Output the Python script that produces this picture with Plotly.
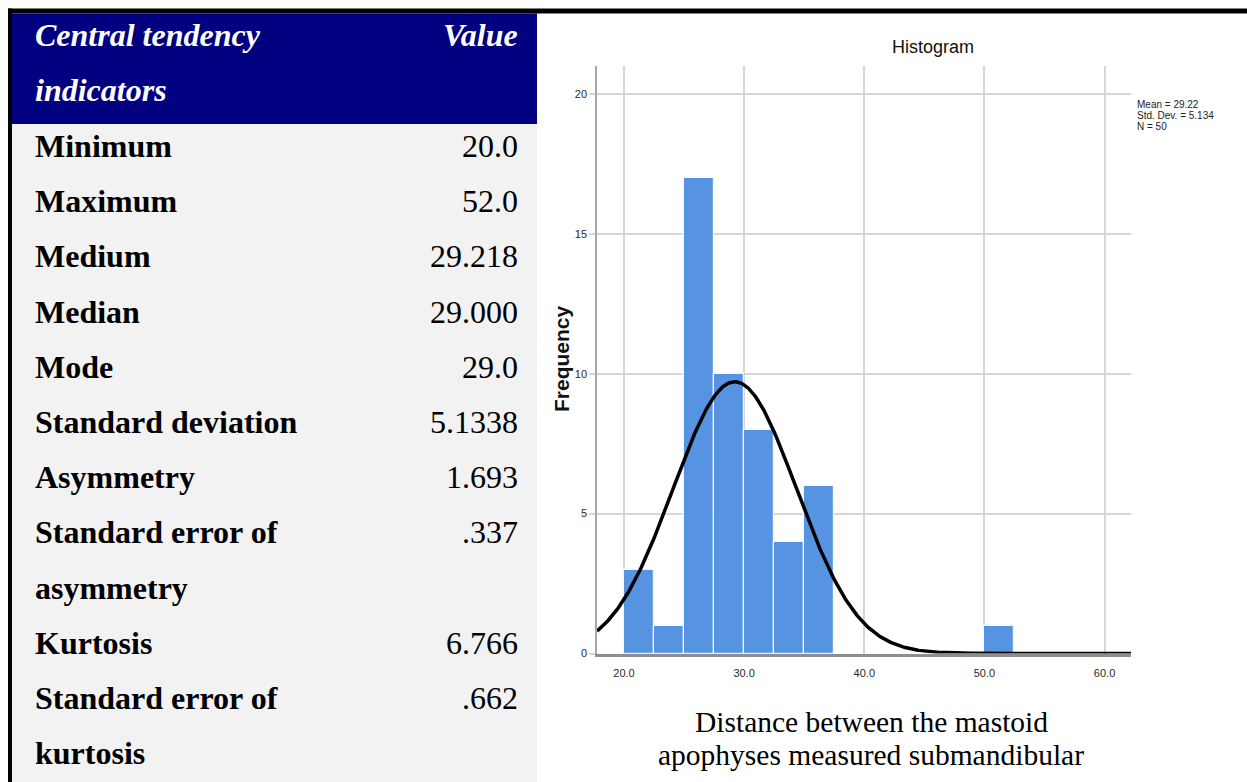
import numpy as np
import plotly.graph_objects as go

# ---------------- data ----------------
bin_starts = [20.0, 22.5, 25.0, 27.5, 30.0, 32.5, 35.0, 50.0]
frequencies = [3, 1, 17, 10, 8, 4, 6, 1]
bin_width = 2.5
mean_value = 29.22
std_dev = 5.134
n_obs = 50

x_tick_values = [20, 30, 40, 50, 60]
x_tick_labels = ["20.0", "30.0", "40.0", "50.0", "60.0"]
y_tick_values = [0, 5, 10, 15, 20]
y_tick_labels = ["0", "5", "10", "15", "20"]

header_label_lines = ["Central tendency", "indicators"]
header_value = "Value"
indicator_lines = [
    ["Minimum"],
    ["Maximum"],
    ["Medium"],
    ["Median"],
    ["Mode"],
    ["Standard deviation"],
    ["Asymmetry"],
    ["Standard error of", "asymmetry"],
    ["Kurtosis"],
    ["Standard error of", "kurtosis"],
]
indicator_values = ["20.0", "52.0", "29.218", "29.000", "29.0", "5.1338",
                    "1.693", ".337", "6.766", ".662"]

chart_title = "Histogram"
y_title = "Frequency"
caption_lines = ["Distance between the mastoid", "apophyses measured submandibular"]

# ---------------- layout helpers ----------------
W, H = 1247, 782


def px(x):
    return x / W


def py(y):
    return 1 - y / H


SERIF = "Liberation Serif, Times New Roman, serif"
NARROW = "Liberation Sans Narrow, Arial Narrow, Liberation Sans, Arial, sans-serif"
SANS = "Liberation Sans, Arial, sans-serif"

fig = go.Figure()

# histogram bars
fig.add_trace(go.Bar(
    x=bin_starts, y=frequencies, width=bin_width, offset=0,
    marker=dict(color="#5694E2", line=dict(color="#F4F8FD", width=1.2)),
    hoverinfo="skip", showlegend=False,
))

# fitted normal curve (from the mean, std. dev. and N shown in the chart)
xs = np.linspace(17.75, 62.2, 500)
scale = n_obs * bin_width / (std_dev * np.sqrt(2 * np.pi))
ys = scale * np.exp(-0.5 * ((xs - mean_value) / std_dev) ** 2)
fig.add_trace(go.Scatter(
    x=xs, y=ys, mode="lines", line=dict(color="#000000", width=3.5),
    hoverinfo="skip", showlegend=False,
))

shapes = [
    # top and left black frame
    dict(type="rect", xref="paper", yref="paper", x0=px(8), x1=px(1247), y0=py(13.5), y1=py(8.5),
         fillcolor="#000000", line=dict(width=0), layer="below"),
    dict(type="rect", xref="paper", yref="paper", x0=px(8), x1=px(12), y0=py(782), y1=py(8.5),
         fillcolor="#000000", line=dict(width=0), layer="below"),
    # header
    dict(type="rect", xref="paper", yref="paper", x0=px(12), x1=px(537), y0=py(124), y1=py(13.5),
         fillcolor="#000080", line=dict(width=0), layer="below"),
    # body
    dict(type="rect", xref="paper", yref="paper", x0=px(12), x1=px(537), y0=py(782), y1=py(124),
         fillcolor="#F2F2F2", line=dict(width=0), layer="below"),
]

annotations = []
LEFT_X, RIGHT_X = 33, 520
FS = 32
header_ys = [35, 90]
for i, t in enumerate(header_label_lines):
    annotations.append(dict(
        x=px(LEFT_X), y=py(header_ys[i]), xref="paper", yref="paper", xanchor="left", yanchor="middle",
        text=f"<b><i>{t}</i></b>", showarrow=False, font=dict(family=SERIF, size=FS, color="#FFFFFF")))
annotations.append(dict(
    x=px(RIGHT_X), y=py(header_ys[0]), xref="paper", yref="paper", xanchor="right", yanchor="middle",
    text=f"<b><i>{header_value}</i></b>", showarrow=False, font=dict(family=SERIF, size=FS, color="#FFFFFF")))

line_idx = 0
ROW0, STEP = 146, 55.2
for lines, val in zip(indicator_lines, indicator_values):
    for j, t in enumerate(lines):
        annotations.append(dict(
            x=px(LEFT_X), y=py(ROW0 + STEP * (line_idx + j)), xref="paper", yref="paper",
            xanchor="left", yanchor="middle", text=f"<b>{t}</b>", showarrow=False,
            font=dict(family=SERIF, size=FS, color="#000000")))
    annotations.append(dict(
        x=px(RIGHT_X), y=py(ROW0 + STEP * line_idx), xref="paper", yref="paper",
        xanchor="right", yanchor="middle", text=val, showarrow=False,
        font=dict(family=SERIF, size=FS, color="#000000")))
    line_idx += len(lines)

# chart title
annotations.append(dict(x=px(933), y=py(47), xref="paper", yref="paper", xanchor="center", yanchor="middle",
                        text=chart_title, showarrow=False, font=dict(family=NARROW, size=18, color="#111111")))
# y axis title
annotations.append(dict(x=px(562), y=py(359), xref="paper", yref="paper", xanchor="center", yanchor="middle",
                        text=f"<b>{y_title}</b>", textangle=-90, showarrow=False,
                        font=dict(family=SANS, size=21, color="#111111")))
# stats box
stats = [f"Mean = {mean_value:.2f}", f"Std. Dev. = {std_dev:.3f}", f"N = {n_obs}"]
for k, s in enumerate(stats):
    annotations.append(dict(x=px(1135), y=py(104 + 11.5 * k), xref="paper", yref="paper",
                            xanchor="left", yanchor="middle", text=s, showarrow=False,
                            font=dict(family=NARROW, size=10, color="#222222")))
# caption
for k, s in enumerate(caption_lines):
    annotations.append(dict(x=px(871), y=py(722 + 33 * k), xref="paper", yref="paper",
                            xanchor="center", yanchor="middle", text=s, showarrow=False,
                            font=dict(family=SERIF, size=29.5, color="#000000")))

fig.update_layout(
    width=W, height=H, margin=dict(l=0, r=0, t=0, b=0, autoexpand=False),
    paper_bgcolor="#FFFFFF", plot_bgcolor="#FFFFFF",
    showlegend=False, bargap=0, hovermode=False,
    shapes=shapes, annotations=annotations,
    xaxis=dict(domain=[px(597), px(1131)], range=[17.75, 62.2], automargin=False,
               tickvals=x_tick_values, ticktext=x_tick_labels,
               showgrid=True, gridcolor="#D6D6D6", gridwidth=1.5,
               showline=True, linecolor="#8E8E8E", linewidth=2.5, zeroline=False,
               ticks="", ticklabelstandoff=8,
               tickfont=dict(family=NARROW, size=11, color="#2A2A2A")),
    yaxis=dict(domain=[py(653.5), py(66)], range=[0, 21.0], automargin=False,
               tickvals=y_tick_values, ticktext=y_tick_labels,
               showgrid=True, gridcolor="#D6D6D6", gridwidth=1.5,
               showline=True, linecolor="#A8A8A8", linewidth=1.5, zeroline=False,
               ticks="outside", ticklen=6, tickcolor="#D6D6D6", tickwidth=1.5,
               tickfont=dict(family=NARROW, size=11, color="#2A2A2A")),
)

fig.write_html("out.html", config={"displayModeBar": False},
               post_script="document.body.style.margin='0';")
